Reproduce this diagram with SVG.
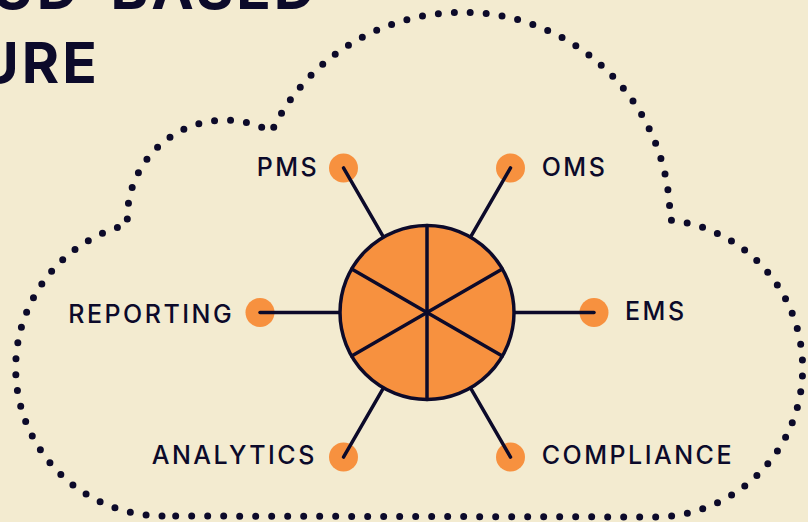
<svg xmlns="http://www.w3.org/2000/svg" width="808" height="522" viewBox="0 0 808 522">
  <style>
    .title { font-family: Inter, "Noto Sans", "Liberation Sans", sans-serif; font-weight: 700; font-size: 57px; fill: #0C0A2A; letter-spacing: 3px; }
    .label { font-family: Inter, "Noto Sans", "Liberation Sans", sans-serif; font-weight: 500; font-size: 25px; fill: #0C0A2A; letter-spacing: 2.5px; }
    .dot { fill: #F7913F; }
    .link { stroke: #0C0A2A; stroke-width: 3.5; stroke-linecap: round; fill: none; }
    .cloud { fill: none; stroke: #0C0A2A; stroke-width: 7; stroke-linecap: round; stroke-dasharray: 0 16; }
  </style>

  <!-- background -->
  <rect x="0" y="0" width="808" height="522" fill="#F3EBD0"/>

  <!-- heading (runs off the left/top edge) -->
  <text class="title" x="318" y="9" text-anchor="end">UD-BASED</text>
  <text class="title" x="-23" y="83">URE</text>

  <!-- dotted cloud outline -->
  <path class="cloud" d="M 162 516 A 148 148 0 0 1 127.5 224.5 A 98 98 0 0 1 271.5 131.7 A 211 206.7 0 0 1 463 12.3 A 207 206.7 0 0 1 670 220 A 149 149 0 0 1 659 517 Z"/>

  <!-- satellite nodes -->
  <g id="pms">
    <circle class="dot" cx="343.5" cy="167.9" r="14.5"/>
    <text class="label" x="256.7" y="176">PMS</text>
  </g>
  <g id="oms">
    <circle class="dot" cx="510.5" cy="167.9" r="14.5"/>
    <text class="label" x="541.7" y="176">OMS</text>
  </g>
  <g id="reporting">
    <circle class="dot" cx="260" cy="312.5" r="14.5"/>
    <text class="label" x="68.3" y="322.7">REPORTING</text>
  </g>
  <g id="ems">
    <circle class="dot" cx="594" cy="312.5" r="14.5"/>
    <text class="label" x="625" y="319.5">EMS</text>
  </g>
  <g id="analytics">
    <circle class="dot" cx="343.5" cy="457.1" r="14.5"/>
    <text class="label" x="151.7" y="464">ANALYTICS</text>
  </g>
  <g id="compliance">
    <circle class="dot" cx="510.5" cy="457.1" r="14.5"/>
    <text class="label" x="541.7" y="464">COMPLIANCE</text>
  </g>

  <!-- spokes from the hub to each satellite -->
  <g id="connectors">
    <line class="link" x1="343.5" y1="167.9" x2="383.5" y2="237.2"/>
    <line class="link" x1="510.5" y1="167.9" x2="470.5" y2="237.2"/>
    <line class="link" x1="260" y1="312.5" x2="340" y2="312.5"/>
    <line class="link" x1="594" y1="312.5" x2="514" y2="312.5"/>
    <line class="link" x1="343.5" y1="457.1" x2="383.5" y2="387.8"/>
    <line class="link" x1="510.5" y1="457.1" x2="470.5" y2="387.8"/>
  </g>

  <!-- central hub: circle split into six wedges -->
  <g id="hub">
    <circle cx="427" cy="312.5" r="87" fill="#F7913F" stroke="#0C0A2A" stroke-width="3.5"/>
    <line class="link" x1="427" y1="225.5" x2="427" y2="399.5"/>
    <line class="link" x1="351.7" y1="269" x2="502.3" y2="356"/>
    <line class="link" x1="351.7" y1="356" x2="502.3" y2="269"/>
  </g>
</svg>
